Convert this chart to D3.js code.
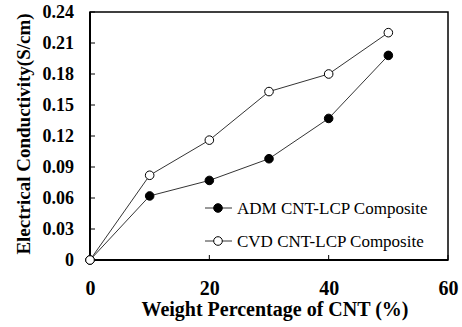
<!DOCTYPE html>
<html>
<head>
<meta charset="utf-8">
<script src="https://cdn.jsdelivr.net/npm/d3@7"></script>
<style>
  body { margin: 0; background: #fff; }
  svg { display: block; }
</style>
</head>
<body>
<figure id="chart" style="margin:0"></figure>
<script>
const weights = [0, 10, 20, 30, 40, 50];
const admValues = [0, 0.062, 0.077, 0.098, 0.137, 0.198];
const cvdValues = [0, 0.082, 0.116, 0.163, 0.180, 0.220];
const xTicks = [0, 20, 40, 60];
const yTicks = [0, 0.03, 0.06, 0.09, 0.12, 0.15, 0.18, 0.21, 0.24];
const seriesNames = ["ADM CNT-LCP Composite", "CVD CNT-LCP Composite"];

const width = 462, height = 327;
const margin = { top: 12, right: 14, bottom: 67, left: 90 };
const plotW = width - margin.left - margin.right;
const plotH = height - margin.top - margin.bottom;
const serif = '"Liberation Serif", "Times New Roman", serif';

const svg = d3.select("#chart")
  .append("svg")
  .attr("width", width)
  .attr("height", height);

const g = svg.append("g")
  .attr("transform", `translate(${margin.left},${margin.top})`);

const x = d3.scaleLinear().domain([0, 60]).range([0, plotW]);
const y = d3.scaleLinear().domain([0, 0.24]).range([plotH, 0]);

// frame
g.append("rect")
  .attr("width", plotW)
  .attr("height", plotH)
  .attr("fill", "none")
  .attr("stroke", "#000")
  .attr("stroke-width", 1.5);

// y axis: ticks drawn inside the frame
const yAxis = g.append("g")
  .attr("font-family", serif)
  .call(d3.axisLeft(y).tickValues(yTicks).tickSize(0).tickPadding(16)
    .tickFormat(d => d === 0 ? "0" : d3.format(".2f")(d)));
yAxis.select(".domain").remove();
yAxis.selectAll("text")
  .style("font-family", serif)
  .style("font-size", "18px")
  .style("font-weight", "bold")
  .attr("fill", "#000");
g.append("g").selectAll("line")
  .data(yTicks)
  .join("line")
  .attr("x1", 0).attr("x2", 5)
  .attr("y1", d => y(d)).attr("y2", d => y(d))
  .attr("stroke", "#000");

// x axis: ticks drawn inside the frame
const xAxis = g.append("g")
  .attr("transform", `translate(0,${plotH})`)
  .call(d3.axisBottom(x).tickValues(xTicks).tickSize(0).tickPadding(21));
xAxis.select(".domain").remove();
xAxis.selectAll("text")
  .style("font-family", serif)
  .style("font-size", "20px")
  .style("font-weight", "bold")
  .attr("fill", "#000");
g.append("g").selectAll("line")
  .data(xTicks)
  .join("line")
  .attr("x1", d => x(d)).attr("x2", d => x(d))
  .attr("y1", plotH).attr("y2", plotH - 5)
  .attr("stroke", "#000");

// heavier left & bottom axis lines
g.append("line").attr("x1", 0).attr("x2", 0).attr("y1", 0).attr("y2", plotH)
  .attr("stroke", "#000").attr("stroke-width", 2);
g.append("line").attr("x1", 0).attr("x2", plotW).attr("y1", plotH).attr("y2", plotH)
  .attr("stroke", "#000").attr("stroke-width", 2);

const line = d3.line()
  .x((d, i) => x(weights[i]))
  .y(d => y(d));

const series = [
  { name: seriesNames[0], values: admValues, fill: "#000" },
  { name: seriesNames[1], values: cvdValues, fill: "#fff" }
];

series.forEach(s => {
  g.append("path")
    .datum(s.values)
    .attr("d", line)
    .attr("fill", "none")
    .attr("stroke", "#000")
    .attr("stroke-width", 0.8);
});
series.forEach(s => {
  g.append("g").selectAll("circle")
    .data(s.values)
    .join("circle")
    .attr("cx", (d, i) => x(weights[i]))
    .attr("cy", d => y(d))
    .attr("r", 4.3)
    .attr("fill", s.fill)
    .attr("stroke", "#000")
    .attr("stroke-width", 1);
});

// legend
const legend = svg.append("g").attr("transform", "translate(205,208)");
series.forEach((s, i) => {
  const row = legend.append("g").attr("transform", `translate(0,${i * 33})`);
  row.append("line").attr("x1", 0).attr("x2", 27).attr("y1", 0).attr("y2", 0)
    .attr("stroke", "#000").attr("stroke-width", 0.8);
  row.append("circle").attr("cx", 13).attr("cy", 0).attr("r", 4.3)
    .attr("fill", s.fill).attr("stroke", "#000");
  row.append("text").attr("x", 32).attr("y", 5.5)
    .style("font-family", serif)
    .style("font-size", "17px")
    .text(s.name);
});

// axis titles
svg.append("text")
  .attr("x", 275)
  .attr("y", 316)
  .attr("text-anchor", "middle")
  .style("font-family", serif)
  .style("font-size", "20px")
  .style("font-weight", "bold")
  .text("Weight Percentage of CNT (%)");

svg.append("text")
  .attr("transform", "translate(30,134) rotate(-90)")
  .attr("text-anchor", "middle")
  .style("font-family", serif)
  .style("font-size", "19px")
  .style("font-weight", "bold")
  .text("Electrical Conductivity(S/cm)");
</script>
</body>
</html>
